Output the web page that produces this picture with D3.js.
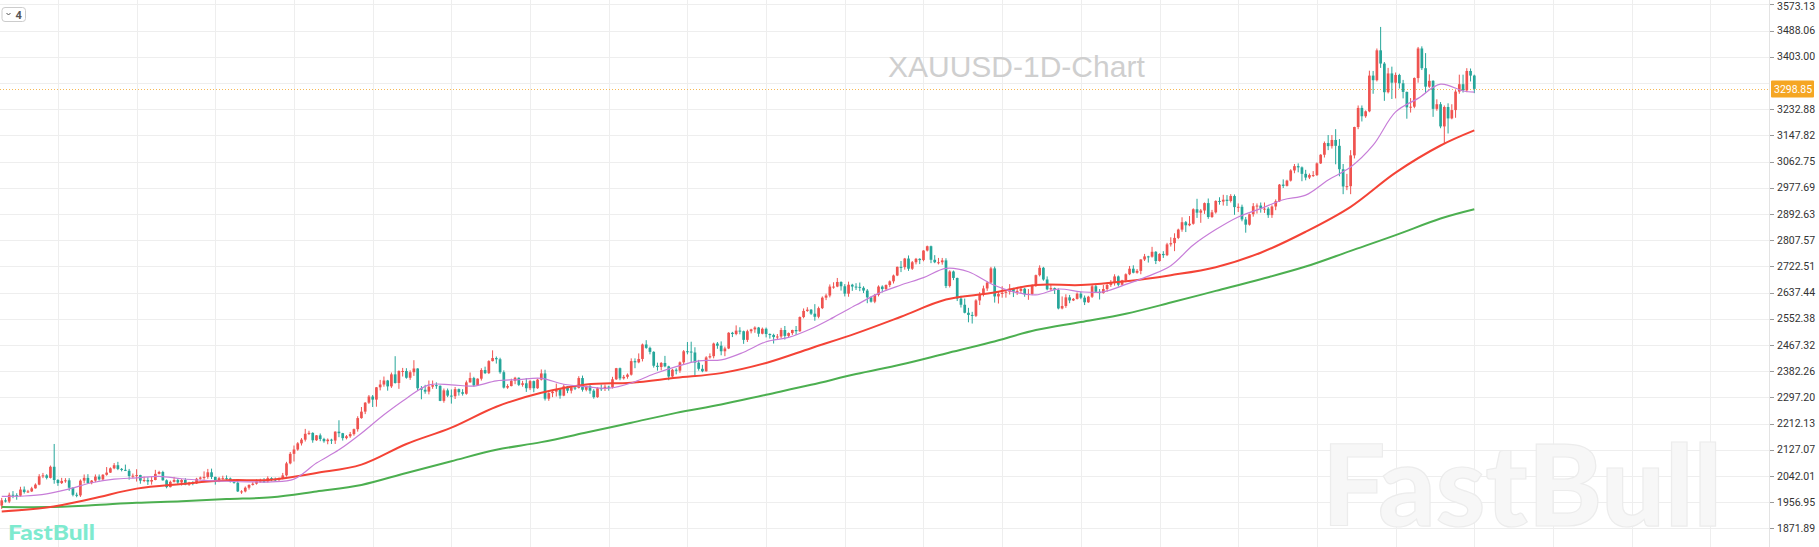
<!DOCTYPE html>
<html><head><meta charset="utf-8">
<script src="https://cdn.jsdelivr.net/npm/d3@7"></script>
<style>html,body{margin:0;padding:0;background:#fff;overflow:hidden}</style>
</head><body><svg id="c" width="1819" height="547"></svg>
<script>
// ---- data (daily candles, Nov 2023 .. May 2025) ----
const openP = [
1946,1963,1959,1981,1980,1978,1998,1990,1992,2002,2014,2041,2044,
2036,2072,2029,2019,2026,2028,2004,1981,1979,2027,2036,2019,2027,2040,2031,2046,2053,2067,2077,2065,
2062,2059,2042,2043,2045,2027,2029,2024,2029,2049,2055,2028,2006,2023,2029,2021,2029,2014,2020,2018,2033,2037,
2039,2054,2039,2024,2035,2035,2034,2024,2020,1992,1992,2004,2013,2017,2025,2025,2024,2035,2031,2030,2034,
2044,2083,2114,2128,2148,2160,2179,2182,2158,2174,2162,2155,2160,2157,2186,2181,2165,2171,2178,2194,
2230,2251,2280,2300,2290,2330,2339,2352,2333,2372,2344,2383,2383,2361,2379,2391,2327,2322,2316,2332,2337,2335,
2286,2320,2303,2301,2324,2314,2309,2346,2360,2336,2358,2386,2376,2415,2425,2421,2379,2329,2334,2351,2361,2338,2343,
2327,2350,2327,2355,2375,2293,2311,2316,2324,2303,2333,2319,2329,2328,2360,2322,2334,2319,2298,2327,
2326,2332,2330,2356,2392,2359,2364,2371,2415,2411,2422,2469,2458,2445,2400,2396,2409,2398,2365,2387,2384,2411,
2447,2446,2443,2410,2390,2382,2427,2431,2472,2465,2447,2456,2507,2503,2514,2512,2484,2512,2518,2524,2504,2520,
2503,2500,2493,2495,2516,2497,2506,2516,2512,2558,2578,2582,2569,2559,2587,2621,2628,2657,2657,2672,2658,
2634,2663,2657,2656,2653,2644,2622,2608,2630,2657,2649,2662,2674,2693,2721,2720,2748,2715,2736,2747,2743,2774,2788,
2744,2736,2736,2742,2659,2706,2685,2618,2598,2572,2565,2562,2612,2631,2651,2670,2716,2625,2633,2637,2640,
2650,2640,2643,2650,2632,2633,2660,2694,2718,2680,2648,2652,2646,2586,2594,2622,2612,2617,2634,2621,2606,
2624,2658,2640,2636,2649,2662,2670,2690,2663,2677,2697,2715,2702,2708,2745,2755,2754,2770,2740,2763,2759,2794,
2798,2815,2842,2866,2856,2861,2908,2897,2904,2928,2883,2898,2935,2933,2939,2935,2951,2915,2916,2875,
2858,2892,2918,2920,2910,2910,2889,2917,2934,2988,2984,3001,3034,3048,3044,3023,3011,3019,3019,3057,3085,
3123,3113,3133,3114,3038,2982,2983,3083,3175,3237,3210,3226,3342,3327,3424,3381,3288,3349,3319,3344,3317,
3289,3239,3241,3334,3430,3366,3306,3325,3234,3249,3177,3240,3203,3230,3290,3314,3294,3357,3342];
const highP = [
1971,1970,1988,1993,1986,2007,2008,1997,2007,2018,2048,2052,2048,
2076,2146,2032,2036,2035,2035,2005,1988,2031,2047,2048,2029,2047,2047,2048,2071,2070,2084,2088,2068,
2079,2065,2050,2064,2046,2040,2038,2040,2062,2059,2059,2031,2027,2039,2033,2032,2035,2023,2025,2036,2040,2057,
2065,2066,2040,2039,2043,2044,2037,2032,2031,1996,2008,2015,2022,2031,2033,2035,2041,2038,2037,2037,2052,
2088,2120,2141,2152,2165,2195,2189,2184,2175,2180,2166,2164,2163,2187,2223,2182,2175,2185,2196,2236,
2266,2282,2305,2305,2331,2354,2365,2354,2378,2431,2385,2393,2392,2385,2418,2392,2334,2338,2352,2352,2346,2336,
2326,2326,2323,2331,2326,2324,2352,2378,2364,2359,2392,2397,2418,2450,2430,2426,2385,2340,2358,2364,2362,2351,2360,
2354,2352,2358,2388,2387,2314,2318,2342,2326,2339,2334,2334,2333,2366,2368,2335,2338,2324,2330,2339,
2339,2335,2364,2393,2394,2370,2375,2424,2424,2440,2472,2483,2462,2447,2410,2412,2432,2400,2390,2392,2414,2451,
2477,2478,2460,2419,2403,2431,2440,2475,2477,2479,2462,2509,2510,2531,2525,2514,2517,2520,2528,2526,2524,2524,
2505,2504,2503,2523,2529,2508,2517,2529,2560,2586,2590,2584,2600,2592,2625,2634,2664,2671,2685,2674,2665,
2673,2666,2668,2670,2658,2649,2625,2633,2661,2661,2664,2677,2696,2722,2740,2750,2758,2740,2750,2749,2775,2790,2790,
2759,2750,2750,2749,2710,2709,2686,2627,2618,2588,2575,2616,2639,2660,2674,2721,2722,2641,2658,2645,2665,
2653,2655,2658,2653,2649,2664,2696,2726,2721,2690,2663,2654,2651,2625,2632,2630,2620,2638,2640,2628,2627,
2662,2666,2649,2662,2670,2678,2697,2693,2679,2700,2724,2726,2714,2746,2763,2757,2786,2772,2765,2772,2799,2817,
2830,2845,2882,2870,2886,2911,2942,2909,2930,2943,2906,2937,2947,2955,2954,2957,2956,2927,2923,2883,
2894,2928,2927,2930,2930,2915,2921,2940,2990,3005,3004,3038,3055,3057,3047,3036,3024,3032,3060,3087,3128,
3149,3149,3168,3136,3055,3023,3100,3176,3245,3245,3229,3358,3357,3430,3500,3386,3367,3371,3352,3348,3328,
3290,3269,3336,3435,3437,3415,3346,3327,3265,3256,3245,3252,3249,3295,3345,3345,3366,3365,3345];
const lowP = [
1935,1956,1954,1970,1965,1975,1985,1987,1990,2001,2012,2035,2031,
2034,2017,2010,2016,2020,1994,1976,1973,1974,2018,2016,2015,2022,2027,2029,2043,2052,2064,2061,2057,
2058,2030,2035,2024,2017,2022,2013,2014,2028,2047,2027,2002,2005,2021,2016,2011,2012,2010,2012,2016,2030,2030,
2033,2032,2014,2022,2030,2028,2021,2017,1990,1984,1989,1998,2011,2014,2021,2020,2021,2025,2025,2024,2031,
2040,2080,2089,2124,2141,2154,2175,2150,2156,2155,2150,2145,2146,2146,2168,2157,2161,2166,2173,2186,
2228,2243,2276,2266,2267,2320,2332,2319,2328,2342,2325,2365,2358,2354,2367,2321,2291,2309,2307,2325,2325,2285,
2280,2298,2277,2292,2303,2303,2306,2345,2332,2335,2352,2373,2373,2414,2407,2374,2326,2325,2333,2340,2334,2332,2315,
2321,2314,2325,2352,2287,2286,2298,2300,2293,2301,2311,2310,2321,2326,2316,2317,2309,2293,2296,2318,
2318,2319,2326,2354,2353,2355,2358,2368,2392,2408,2414,2455,2437,2394,2384,2385,2395,2353,2362,2372,2377,2403,
2437,2410,2364,2384,2379,2381,2423,2424,2455,2434,2431,2454,2493,2499,2502,2471,2477,2505,2507,2494,2502,2492,
2488,2472,2486,2490,2485,2492,2500,2500,2510,2554,2575,2565,2546,2554,2584,2613,2622,2650,2655,2644,2625,
2624,2643,2646,2642,2636,2603,2605,2603,2625,2638,2643,2655,2667,2691,2704,2712,2708,2711,2729,2730,2739,2771,2733,
2733,2729,2728,2652,2654,2678,2610,2589,2570,2541,2537,2558,2597,2625,2643,2666,2605,2602,2621,2621,2631,
2623,2630,2636,2624,2614,2629,2656,2690,2676,2645,2644,2633,2583,2583,2588,2603,2610,2615,2616,2597,2604,
2620,2637,2615,2634,2640,2656,2660,2657,2660,2671,2694,2700,2699,2697,2740,2735,2751,2730,2738,2750,2756,2787,
2772,2811,2835,2834,2853,2858,2880,2864,2893,2877,2880,2894,2923,2920,2919,2930,2890,2899,2869,2832,
2855,2884,2894,2897,2896,2880,2880,2905,2932,2977,2982,2998,3025,3028,2999,3002,3006,3013,3016,3055,3076,
3100,3105,3054,3015,2957,2970,2957,3073,3168,3193,3205,3223,3283,3323,3367,3260,3284,3266,3268,3300,3268,
3202,3222,3236,3319,3360,3285,3302,3208,3228,3171,3120,3154,3200,3205,3283,3287,3288,3323,3285];
const closeP = [
1963,1959,1981,1980,1978,1998,1990,1992,2002,2014,2041,2044,2036,
2072,2029,2019,2026,2028,2004,1981,1979,2027,2036,2019,2027,2040,2031,2046,2053,2067,2077,2065,2062,
2059,2042,2043,2045,2027,2029,2024,2029,2049,2055,2028,2006,2023,2029,2021,2029,2014,2020,2018,2033,2037,2039,
2054,2039,2024,2035,2035,2034,2024,2020,1992,1992,2004,2013,2017,2025,2025,2024,2035,2031,2030,2034,2044,
2083,2114,2128,2148,2160,2179,2182,2158,2174,2162,2155,2160,2157,2186,2181,2165,2171,2178,2194,2230,
2251,2280,2300,2290,2330,2339,2352,2333,2372,2344,2383,2383,2361,2379,2391,2327,2322,2316,2332,2337,2335,2286,
2320,2303,2301,2324,2314,2309,2346,2360,2336,2358,2386,2376,2415,2425,2421,2379,2329,2334,2351,2361,2338,2343,2327,
2350,2327,2355,2375,2293,2311,2316,2324,2303,2333,2319,2329,2328,2360,2322,2334,2319,2298,2327,2326,
2332,2330,2356,2392,2359,2364,2371,2415,2411,2422,2469,2458,2445,2400,2396,2409,2398,2365,2387,2384,2411,2447,
2446,2443,2410,2390,2382,2427,2431,2472,2465,2447,2456,2507,2503,2514,2512,2484,2512,2518,2524,2504,2520,2503,
2500,2493,2495,2516,2497,2506,2516,2512,2558,2578,2582,2569,2559,2587,2621,2628,2657,2657,2672,2658,2634,
2663,2657,2656,2653,2644,2622,2608,2630,2657,2649,2662,2674,2693,2721,2720,2748,2715,2736,2747,2743,2774,2788,2744,
2736,2736,2742,2659,2706,2685,2618,2598,2572,2565,2562,2612,2631,2651,2670,2716,2625,2633,2637,2640,2650,
2640,2643,2650,2632,2633,2660,2694,2718,2680,2648,2652,2646,2586,2594,2622,2612,2617,2634,2621,2606,2624,
2658,2640,2636,2649,2662,2670,2690,2663,2677,2697,2715,2702,2708,2745,2755,2754,2770,2740,2763,2759,2794,2798,
2815,2842,2866,2856,2861,2908,2897,2904,2928,2883,2898,2935,2933,2939,2935,2951,2915,2916,2875,2858,
2892,2918,2920,2910,2910,2889,2917,2934,2988,2984,3001,3034,3048,3044,3023,3011,3019,3019,3057,3085,3123,
3113,3133,3114,3038,2982,2983,3083,3175,3237,3210,3226,3342,3327,3424,3381,3288,3349,3319,3344,3317,3289,
3239,3241,3334,3430,3366,3306,3325,3234,3249,3177,3240,3203,3230,3290,3314,3294,3357,3342,3298.85];

// moving averages, read at sample candle indices
const maFastIdx = [0,6,12,18,24,30,36,42,48,54,60,66,72,78,84,90,96,102,108,114,120,126,132,138,144,150,156,162,168,174,180,186,192,198,204,210,216,222,228,234,240,246,252,258,264,270,276,282,288,294,300,306,312,318,324,330,336,342,348,354,360,366,372,378,384,390,393];
const maFast = [1976,1977,1984,2000,2020,2032,2036,2041,2033,2028,2025,2023,2023,2032,2084,2127,2181,2241,2294,2338,2338,2334,2351,2355,2359,2340,2332,2327,2344,2373,2397,2416,2419,2444,2478,2492,2520,2557,2597,2635,2662,2686,2716,2705,2666,2640,2630,2649,2640,2640,2664,2691,2725,2792,2842,2883,2910,2939,2954,3003,3045,3116,3224,3268,3314,3292,3288];
const maSlowIdx = [0,12,24,36,48,60,72,84,96,108,120,132,144,156,168,180,192,204,216,228,240,252,264,276,288,300,312,324,336,348,360,372,384,393];
const maMid = [1927,1940,1968,2001,2016,2028,2030,2052,2079,2146,2199,2267,2312,2339,2345,2361,2376,2409,2457,2505,2559,2615,2636,2662,2662,2674,2694,2720,2767,2835,2916,3027,3115,3164];
const maLong = [1941,1941,1947,1955,1960,1967,1973,1992,2013,2052,2090,2127,2152,2183,2215,2247,2274,2306,2338,2373,2404,2440,2476,2516,2542,2569,2605,2643,2681,2722,2773,2824,2878,2908];

const yTickLabels = ["3573.13","3488.06","3403.00","3317.94","3232.88","3147.82","3062.75","2977.69","2892.63","2807.57","2722.51","2637.44","2552.38","2467.32","2382.26","2297.20","2212.13","2127.07","2042.01","1956.95","1871.89"];
const lastPrice = 3298.85;
const chartTitle = "XAUUSD-1D-Chart";
const brand = "FastBull";
const gridEvery = 21;

// ---- layout ----
const W = 1819, H = 547, plotRight = 1769;
const svg = d3.select("#c");
const n = Math.min(openP.length, highP.length, lowP.length, closeP.length);
const x = d3.scaleLinear().domain([0, 393]).range([1.73, 1474.3]);
const y = d3.scaleLinear().domain([1871.89, 3573.13]).range([528.4, 4.4]);

const gGrid = svg.append("g");
const tickVals = yTickLabels.map(Number);
gGrid.selectAll("line.h").data(tickVals).enter().append("line")
  .attr("x1", 0).attr("x2", plotRight)
  .attr("y1", d => Math.round(y(d)) + 0.5).attr("y2", d => Math.round(y(d)) + 0.5)
  .attr("stroke", "#eeeeee").attr("stroke-width", 1);
const vIdx = [];
for (let k = -5; k <= 20; k++) { const i = (n - 1) - gridEvery * k; const px = x(i); if (px > 0 && px < plotRight) vIdx.push(i); }
gGrid.selectAll("line.v").data(vIdx).enter().append("line")
  .attr("x1", d => Math.round(x(d)) + 0.5).attr("x2", d => Math.round(x(d)) + 0.5)
  .attr("y1", 0).attr("y2", H)
  .attr("stroke", "#eeeeee").attr("stroke-width", 1);

// watermark: size the font so its natural width fills the reference box
const wm = svg.append("text").attr("x", 1322).attr("y", 526).text(brand)
  .attr("font-family", "Lato, 'Open Sans', sans-serif").attr("font-weight", 900)
  .attr("font-size", 100)
  .attr("fill", "#f7f7f7").attr("stroke", "#ececec").attr("stroke-width", 1.2);
const wmW = wm.node().getComputedTextLength();
if (wmW > 0) wm.attr("font-size", Math.min(118, 100 * 400 / wmW));

// title
svg.append("text").attr("x", 888).attr("y", 77).text(chartTitle)
  .attr("font-family", "'Liberation Sans', Arial, sans-serif").attr("font-size", 30)
  .attr("fill", "#cfcfcf");

// price line
svg.append("line").attr("x1", 0).attr("x2", plotRight)
  .attr("y1", Math.round(y(lastPrice)) + 0.5).attr("y2", Math.round(y(lastPrice)) + 0.5)
  .attr("stroke", "#f7b955").attr("stroke-width", 1).attr("stroke-dasharray", "1,2");

// candles
const data = d3.range(n).map(i => ({i, o: openP[i], h: highP[i], l: lowP[i], c: closeP[i]}));
const up = "#ef5350", dn = "#26a69a";
const gC = svg.append("g");
gC.selectAll("line.w").data(data).enter().append("line")
  .attr("x1", d => x(d.i)).attr("x2", d => x(d.i))
  .attr("y1", d => y(d.h)).attr("y2", d => y(d.l))
  .attr("stroke", d => d.c >= d.o ? up : dn).attr("stroke-width", 1);
gC.selectAll("rect").data(data).enter().append("rect")
  .attr("x", d => x(d.i) - 1.35).attr("width", 2.7)
  .attr("y", d => y(Math.max(d.o, d.c)))
  .attr("height", d => Math.max(1, Math.abs(y(d.o) - y(d.c))))
  .attr("fill", d => d.c >= d.o ? up : dn);

// moving averages
const line = d3.line().x(d => x(d[0])).y(d => y(d[1])).curve(d3.curveCatmullRom.alpha(0.5));
svg.append("path").attr("d", line(maSlowIdx.map((k, j) => [k, maLong[j]])))
  .attr("fill", "none").attr("stroke", "#4caf50").attr("stroke-width", 2);
svg.append("path").attr("d", line(maSlowIdx.map((k, j) => [k, maMid[j]])))
  .attr("fill", "none").attr("stroke", "#f44336").attr("stroke-width", 2);
svg.append("path").attr("d", line(maFastIdx.map((k, j) => [k, maFast[j]])))
  .attr("fill", "none").attr("stroke", "#c77dd8").attr("stroke-width", 1.2);

// y axis
const gA = svg.append("g");
gA.append("line").attr("x1", plotRight + 0.5).attr("x2", plotRight + 0.5).attr("y1", 0).attr("y2", H)
  .attr("stroke", "#e3e3e3");
const shown = tickVals.filter(v => Math.abs(y(v) - y(lastPrice)) > 10);
gA.selectAll("line.t").data(shown).enter().append("line")
  .attr("x1", plotRight + 1).attr("x2", plotRight + 5)
  .attr("y1", d => Math.round(y(d)) + 0.5).attr("y2", d => Math.round(y(d)) + 0.5)
  .attr("stroke", "#999");
gA.selectAll("text").data(shown).enter().append("text")
  .attr("x", 1777).attr("y", d => Math.max(y(d), 6.5)).attr("dy", "0.35em")
  .text(d => yTickLabels[tickVals.indexOf(d)])
  .attr("font-family", "Roboto, sans-serif").attr("font-size", 10.5).attr("fill", "#333");
gA.append("rect").attr("x", 1771).attr("y", y(lastPrice) - 8.5).attr("width", 43).attr("height", 17)
  .attr("fill", "#f5a623").attr("rx", 1);
gA.append("text").attr("x", 1774).attr("y", y(lastPrice)).attr("dy", "0.35em").text(lastPrice.toFixed(2))
  .attr("font-family", "Roboto, sans-serif").attr("font-size", 10.5).attr("fill", "#fff");

// top-left control
svg.append("rect").attr("x", 2).attr("y", 7.5).attr("width", 23.5).attr("height", 14).attr("rx", 3)
  .attr("fill", "#fff").attr("stroke", "#cccccc");
svg.append("path").attr("d", "M6.5,13 L8.5,15 L10.5,13").attr("fill", "none").attr("stroke", "#555").attr("stroke-width", 1);
svg.append("text").attr("x", 15.5).attr("y", 18.5).text("4")
  .attr("font-family", "Roboto, sans-serif").attr("font-weight", 700).attr("font-size", 11).attr("fill", "#555");

// bottom-left brand
svg.append("text").attr("x", 8).attr("y", 540).text(brand)
  .attr("font-family", "Lato, 'Open Sans', sans-serif").attr("font-weight", 900)
  .attr("font-size", 21).attr("textLength", 87).attr("lengthAdjust", "spacingAndGlyphs")
  .attr("fill", "#7eeacf");
</script></body></html>
